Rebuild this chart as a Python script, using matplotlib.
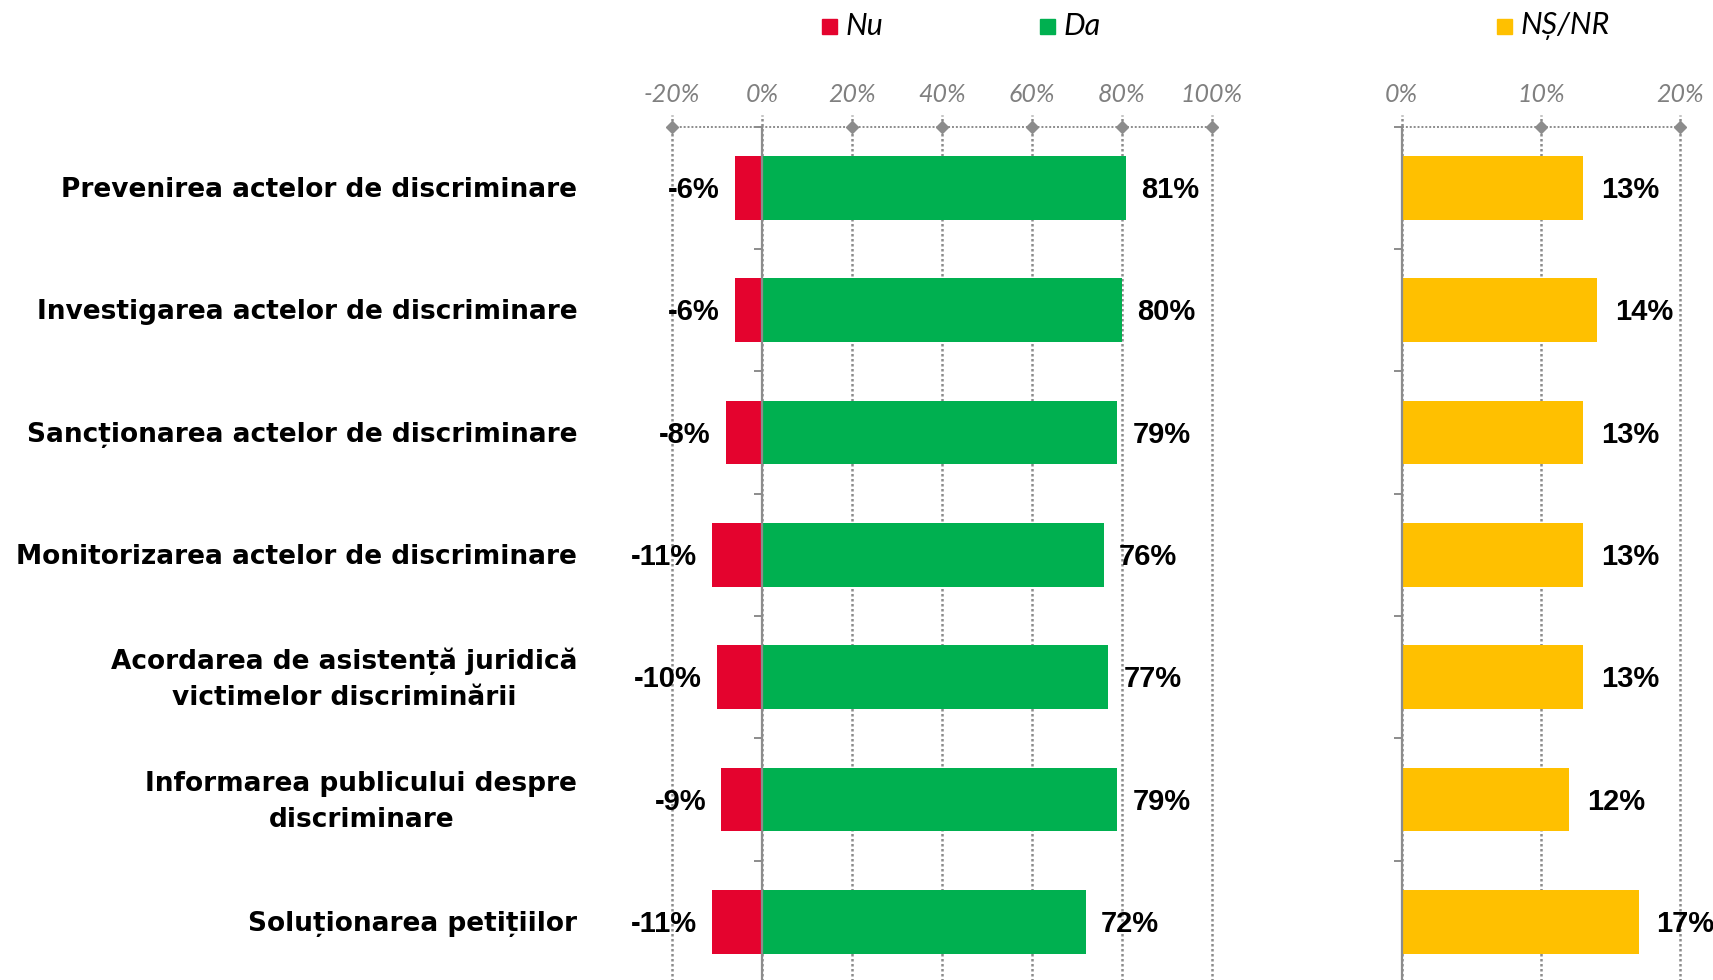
import matplotlib.pyplot as plt
import matplotlib.transforms as mtransforms
from matplotlib.patches import Rectangle

# data
categories = [
    'Prevenirea actelor de discriminare',
    'Investigarea actelor de discriminare',
    'Sancționarea actelor de discriminare',
    'Monitorizarea actelor de discriminare',
    'Acordarea de asistență juridică\nvictimelor discriminării',
    'Informarea publicului despre\ndiscriminare',
    'Soluționarea petițiilor',
]
nu = [-6, -6, -8, -11, -10, -9, -11]
da = [81, 80, 79, 76, 77, 79, 72]
ns_nr = [13, 14, 13, 13, 13, 12, 17]

left_ticks = [-20, 0, 20, 40, 60, 80, 100]
right_ticks = [0, 10, 20]

# colours
c_nu = '#E4032E'
c_da = '#00B050'
c_ns = '#FFC000'
c_grid = '#8C8C8C'

fig = plt.figure(figsize=(17.13, 9.8), dpi=100)
ax1 = fig.add_axes([0.3923, -0.003, 0.3150, 0.8737])
ax2 = fig.add_axes([0.8183, -0.003, 0.1626, 0.8737])

y = list(range(len(categories)))
bar_h = 0.52


def style_axis(ax, ticks, xmin, xmax):
    # axis frame: only a solid spine at zero
    for s in ['top', 'right', 'bottom']:
        ax.spines[s].set_visible(False)
    ax.spines['left'].set_position(('data', 0))
    ax.spines['left'].set_color(c_grid)
    ax.spines['left'].set_linewidth(1.6)
    ax.set_xlim(xmin, xmax)
    ax.set_ylim(len(categories) - 0.5, -0.5)

    # y ticks at category boundaries
    ax.set_yticks([i - 0.5 for i in range(len(categories) + 1)])
    ax.set_yticklabels([])
    ax.tick_params(axis='y', length=6, width=1.4, color=c_grid, direction='out')

    # top x ticks
    ax.xaxis.tick_top()
    ax.set_xticks(ticks)
    ax.set_xticklabels(['%d%%' % t for t in ticks], fontsize=18, style='italic',
                       color='#808080', family='Lato')
    ax.tick_params(axis='x', length=0, pad=15)

    # dotted gridlines, dotted top line and diamonds
    trans = ax.get_xaxis_transform()
    for t in ticks:
        ax.plot([t, t], [0, 1.014], transform=trans, color=c_grid, lw=1.8,
                ls=(0, (1, 1)), clip_on=False, zorder=0)
        if t != 0:
            ax.plot([t], [1], transform=trans, marker='D', ms=6, color=c_grid,
                    clip_on=False, zorder=3)
    ax.plot([xmin, xmax], [1, 1], transform=trans, color=c_grid, lw=1.4,
            ls=(0, (1, 1)), clip_on=False, zorder=2)


style_axis(ax1, left_ticks, -20, 100)
style_axis(ax2, right_ticks, 0, 20)

# bars
ax1.barh(y, nu, height=bar_h, color=c_nu, zorder=2)
ax1.barh(y, da, height=bar_h, color=c_da, zorder=2)
ax2.barh(y, ns_nr, height=bar_h, color=c_ns, zorder=2)

# value labels
for i in y:
    ax1.annotate('%d%%' % nu[i], (nu[i], i), xytext=(-11, -1.5),
                 textcoords='offset points', ha='right', va='center',
                 fontsize=21, fontweight='bold', family='Liberation Sans')
    ax1.annotate('%d%%' % da[i], (da[i], i), xytext=(11, -1.5),
                 textcoords='offset points', ha='left', va='center',
                 fontsize=21, fontweight='bold', family='Liberation Sans')
    ax2.annotate('%d%%' % ns_nr[i], (ns_nr[i], i), xytext=(13, -1.5),
                 textcoords='offset points', ha='left', va='center',
                 fontsize=21, fontweight='bold', family='Liberation Sans')

# category labels
tr = mtransforms.blended_transform_factory(fig.transFigure, ax1.transData)
for i, cat in enumerate(categories):
    ax1.annotate(cat, (0.337, i), xycoords=tr, xytext=(0, -1.5),
                 textcoords='offset points', ha='right', va='center',
                 multialignment='center', fontsize=19, fontweight='bold',
                 family='DejaVu Sans', linespacing=1.5)

# legend
legend_items = [('Nu', c_nu, 0.4796), ('Da', c_da, 0.6071), ('NȘ/NR', c_ns, 0.8738)]
for name, col, x0 in legend_items:
    fig.patches.append(Rectangle((x0, 0.9655), 0.0089, 0.0155,
                                 transform=fig.transFigure, color=col))
    fig.text(x0 + 0.0137, 0.973, name, ha='left', va='center', fontsize=22,
             style='italic', family='Lato')

fig.savefig('out.png', dpi=100)
